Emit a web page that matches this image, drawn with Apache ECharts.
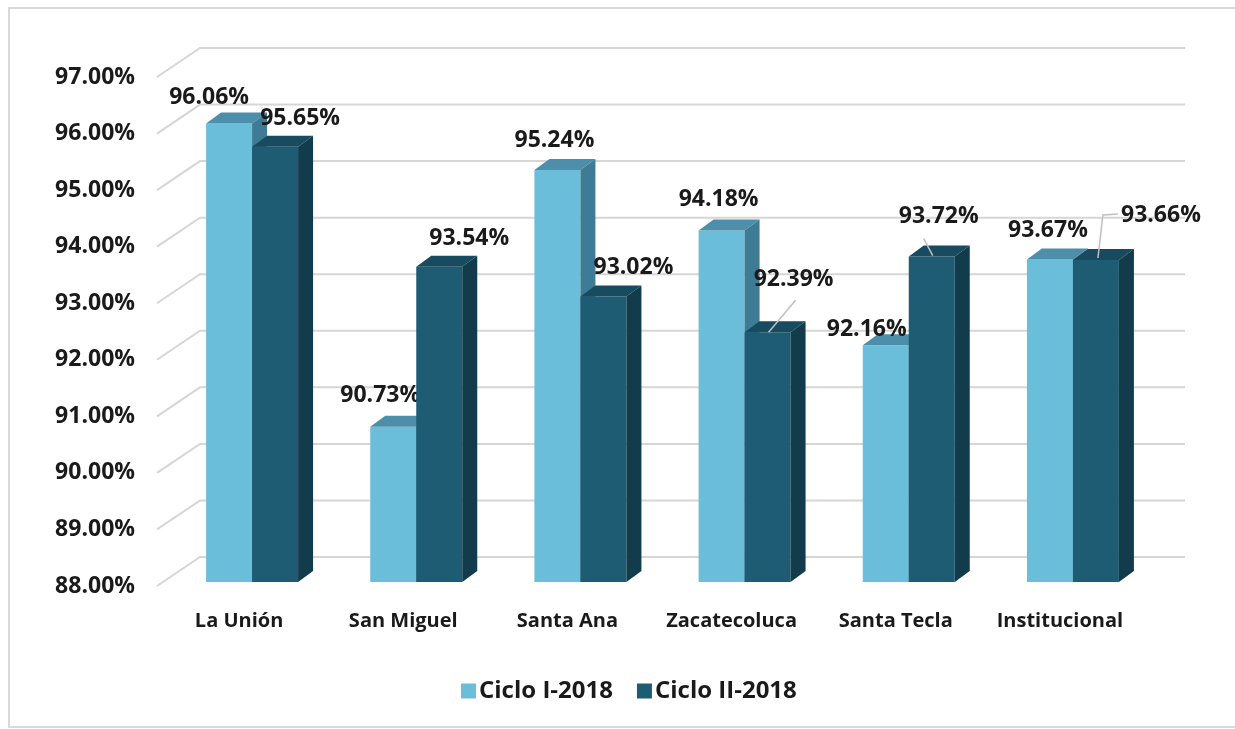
<!DOCTYPE html>
<html>
<head>
<meta charset="utf-8">
<script src="https://cdn.jsdelivr.net/npm/echarts@6/dist/echarts.min.js"></script>
<style>html,body{margin:0;padding:0;background:#fff}#c{width:1235px;height:729px}</style>
</head>
<body>
<div id="c"></div>
<script>
var categories = ['La Unión', 'San Miguel', 'Santa Ana', 'Zacatecoluca', 'Santa Tecla', 'Institucional'];
var seriesNames = ['Ciclo I-2018', 'Ciclo II-2018'];
var ciclo1 = [96.06, 90.73, 95.24, 94.18, 92.16, 93.67];
var ciclo2 = [95.65, 93.54, 93.02, 92.39, 93.72, 93.66];
var yTicks = [88, 89, 90, 91, 92, 93, 94, 95, 96, 97];

// layout (label offsets from top-front centre of each bar)
var labelOff1 = [[-20,-26],[-13,-31],[-3,-30],[-3,-31],[-19,-16],[-2,-29]];
var labelOff2 = [[25,-28],[30,-28],[30,-29],[26,-53],[7,-40],[65,-45]];
var leaders2 = [null, null, null, [[1,0],[28,-32]], [[1,-1],[-8,-18]], [[2,-2],[7,-45],[22,-46]]];

var FONT = '"Open Sans", "Liberation Sans", sans-serif';
var COL = {
  1: {front:'#6BBEDA', top:'#4D8FAA', side:'#3E7C96'},
  2: {front:'#1E5C74', top:'#184B5F', side:'#123B4C'}
};
var BW = 46, DX = 15, DY = -11;

function barRender(idx, offs, leaders) {
  return function (params, api) {
    var ci = api.value(0), v = api.value(1);
    var top = api.coord([ci, v]);
    var base = api.coord([ci, 88]);
    var x0 = idx === 1 ? top[0] - BW : top[0];
    var yt = top[1], yb = base[1];
    var c = COL[idx];
    var children = [
      {type:'rect', shape:{x:x0, y:yt, width:BW, height:yb-yt}, style:{fill:c.front}},
      {type:'polygon', shape:{points:[[x0,yt],[x0+DX,yt+DY],[x0+BW+DX,yt+DY],[x0+BW,yt]]}, style:{fill:c.top}},
      {type:'polygon', shape:{points:[[x0+BW,yt],[x0+BW+DX,yt+DY],[x0+BW+DX,yb+DY],[x0+BW,yb]]}, style:{fill:c.side}}
    ];
    var cx = x0 + BW/2;
    var L = leaders && leaders[params.dataIndex];
    if (L) {
      children.push({type:'polyline', shape:{points:L.map(function(p){return [cx+p[0], yt+p[1]];})},
        style:{stroke:'#bfbfbf', lineWidth:1.5, fill:null}});
    }
    var o = offs[params.dataIndex];
    children.push({type:'text', x:cx+o[0], y:yt+o[1], style:{text:v.toFixed(2)+'%', font:'bold 23px '+FONT,
      fill:'#1a1a1a', align:'center', verticalAlign:'middle'}});
    return {type:'group', children:children};
  };
}

var chart = echarts.init(document.getElementById('c'));
chart.setOption({
  backgroundColor:'#fff',
  animation:false,
  graphic:[{type:'rect', shape:{x:9, y:8, width:1240, height:719}, style:{fill:null, stroke:'#d9d9d9', lineWidth:2}, z:-10}],
  legend:{
    data:seriesNames, left:456, top:674, itemWidth:15, itemHeight:15, itemGap:24, icon:'rect',
    textStyle:{fontFamily:FONT, fontWeight:'bold', fontSize:24, color:'#1a1a1a', padding:[0,0,0,-2]}
  },
  grid:[
    {left:157, right:93, top:77, bottom:143},
    {left:170, right:80, top:70, bottom:147}
  ],
  xAxis:[
    {type:'category', gridIndex:0, data:categories, axisLine:{show:false}, axisTick:{show:false},
     axisLabel:{interval:0, hideOverlap:false, fontFamily:FONT, fontWeight:'bold', fontSize:20, color:'#1a1a1a', margin:25}},
    {type:'category', gridIndex:1, data:categories, show:false}
  ],
  yAxis:[
    {type:'value', gridIndex:0, min:88, max:97, interval:1, splitLine:{show:false}, axisLine:{show:false}, axisTick:{show:false},
     axisLabel:{fontFamily:FONT, fontWeight:'bold', fontSize:23, color:'#1a1a1a', margin:22,
       formatter:function(v){return v.toFixed(2)+'%';}}},
    {type:'value', gridIndex:1, min:88, max:97, interval:1, show:false}
  ],
  series:[
    {type:'custom', name:'walls', xAxisIndex:0, yAxisIndex:0, silent:true, z:1,
     data:yTicks.map(function(t){return [0,t];}),
     renderItem:function(params, api){
       var cs = params.coordSys;
       var y = api.coord([0, api.value(1)])[1];
       return {type:'polyline', shape:{points:[[cs.x, y],[cs.x+43, y-29],[cs.x+cs.width+43, y-29]]},
         style:{stroke:'#d6d6d6', lineWidth:2, fill:null}};
     }},
    {type:'custom', name:seriesNames[0], xAxisIndex:1, yAxisIndex:1, z:2, itemStyle:{color:COL[1].front},
     data:ciclo1.map(function(v,i){return [i,v];}), renderItem:barRender(1, labelOff1, null)},
    {type:'custom', name:seriesNames[1], xAxisIndex:1, yAxisIndex:1, z:3, itemStyle:{color:COL[2].front},
     data:ciclo2.map(function(v,i){return [i,v];}), renderItem:barRender(2, labelOff2, leaders2)}
  ]
});
</script>
</body>
</html>
